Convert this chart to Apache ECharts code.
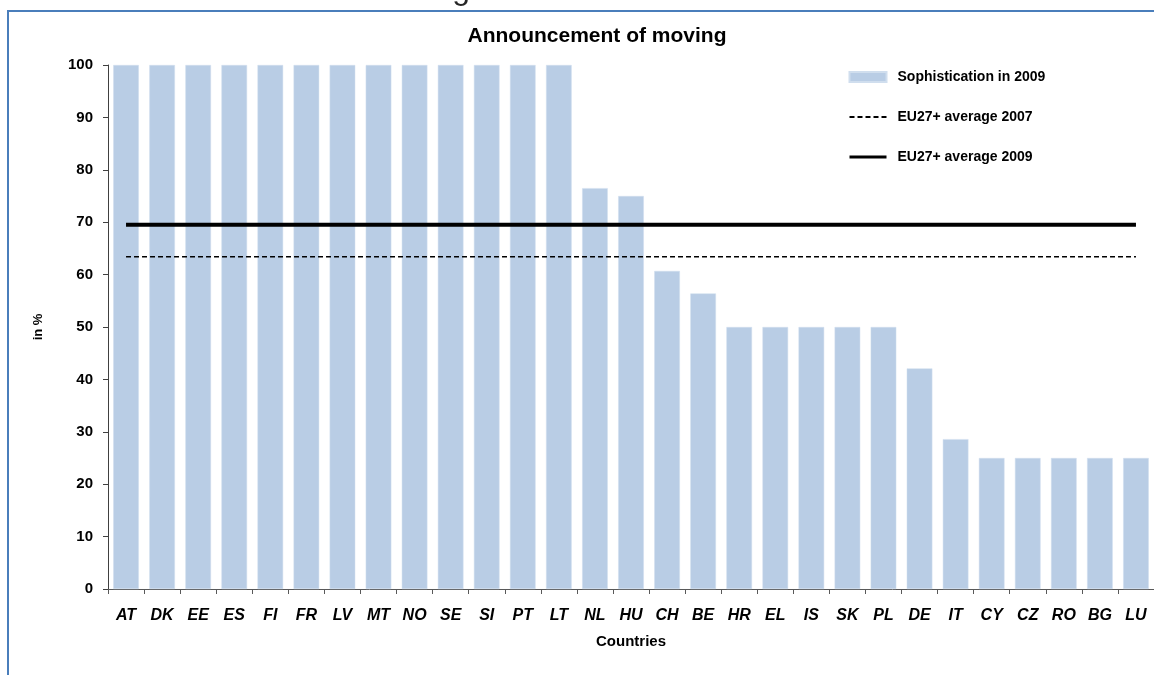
<!DOCTYPE html>
<html>
<head>
<meta charset="utf-8">
<script src="https://cdn.jsdelivr.net/npm/echarts@6/dist/echarts.min.js"></script>
<style>
html,body{margin:0;padding:0;background:#fff;}
#chart{width:1154px;height:675px;}
</style>
</head>
<body>
<div id="chart"></div>
<script>
const countries = ['AT','DK','EE','ES','FI','FR','LV','MT','NO','SE','SI','PT','LT','NL','HU','CH','BE','HR','EL','IS','SK','PL','DE','IT','CY','CZ','RO','BG','LU'];
const sophistication2009 = [100,100,100,100,100,100,100,100,100,100,100,100,100,76.5,75,60.7,56.4,50,50,50,50,50,42.1,28.6,25,25,25,25,25];
const avg2007 = [63.4,63.4,63.4,63.4,63.4,63.4,63.4,63.4,63.4,63.4,63.4,63.4,63.4,63.4,63.4,63.4,63.4,63.4,63.4,63.4,63.4,63.4,63.4,63.4,63.4,63.4,63.4,63.4,63.4];
const avg2009 = [69.5,69.5,69.5,69.5,69.5,69.5,69.5,69.5,69.5,69.5,69.5,69.5,69.5,69.5,69.5,69.5,69.5,69.5,69.5,69.5,69.5,69.5,69.5,69.5,69.5,69.5,69.5,69.5,69.5];
const yTicks = {min: 0, max: 100, interval: 10};

const FONT = 'Arial, "Liberation Sans", sans-serif';
const chart = echarts.init(document.getElementById('chart'), null, {renderer: 'canvas'});
chart.setOption({
  animation: false,
  backgroundColor: '#fff',
  textStyle: {fontFamily: FONT},
  title: {
    text: 'Announcement of moving',
    left: 592, top: 21, textAlign: 'center',
    textStyle: {fontFamily: FONT, fontWeight: 'bold', fontSize: 21, color: '#000'}
  },
  graphic: [
    {type: 'rect', shape: {x: 8, y: 11, width: 1300, height: 800},
     style: {fill: 'none', stroke: '#4A7EBB', lineWidth: 2}, silent: true},
    {type: 'text', x: 470, y: 6,
     style: {text: 'Announcement of moving', font: '32px ' + FONT, fill: '#262626',
             textAlign: 'right', textVerticalAlign: 'bottom'}, silent: true}
  ],
  legend: {
    orient: 'vertical', left: 843, top: 65,
    itemWidth: 37, itemHeight: 10, itemGap: 26,
    textStyle: {fontFamily: FONT, fontWeight: 'bold', fontSize: 14, lineHeight: 14, color: '#000', padding: [0,0,0,6]},
    data: [
      {name: 'Sophistication in 2009', icon: 'rect'},
      {name: 'EU27+ average 2007', itemStyle: {opacity: 0, borderWidth: 0}},
      {name: 'EU27+ average 2009', itemStyle: {opacity: 0, borderWidth: 0}, lineStyle: {width: 3}}
    ]
  },
  grid: {left: 108, right: 0, top: 65, bottom: 86, containLabel: false},
  xAxis: {
    type: 'category', data: countries,
    name: 'Countries', nameLocation: 'middle', nameGap: 45,
    nameTextStyle: {fontFamily: FONT, fontWeight: 'bold', fontSize: 15, color: '#000'},
    axisLine: {lineStyle: {color: '#595959', width: 1}},
    axisTick: {show: true, alignWithLabel: false, length: 5, lineStyle: {color: '#595959'}},
    axisLabel: {fontFamily: FONT, fontWeight: 'bold', fontStyle: 'italic', fontSize: 16, color: '#000', margin: 19, interval: 0},
    splitLine: {show: false}
  },
  yAxis: {
    type: 'value', min: yTicks.min, max: yTicks.max, interval: yTicks.interval,
    name: 'in %', nameLocation: 'middle', nameGap: 63, nameRotate: 90,
    nameTextStyle: {fontFamily: FONT, fontWeight: 'bold', fontSize: 13, color: '#000'},
    axisLine: {show: true, lineStyle: {color: '#404040', width: 1}},
    axisTick: {show: true, length: 5, lineStyle: {color: '#404040'}},
    axisLabel: {fontFamily: FONT, fontWeight: 'bold', fontSize: 15, color: '#000', margin: 15},
    splitLine: {show: false}
  },
  series: [
    {name: 'Sophistication in 2009', type: 'bar', data: sophistication2009,
     barCategoryGap: '29%',
     itemStyle: {color: '#B9CDE5', borderColor: '#D0DEEE', borderWidth: 0.5}},
    {name: 'EU27+ average 2007', type: 'line', data: avg2007, symbol: 'none', z: 3,
     lineStyle: {color: '#000', width: 1.5, type: [5, 3]},
     itemStyle: {color: '#000'}},
    {name: 'EU27+ average 2009', type: 'line', data: avg2009, symbol: 'none', z: 4,
     lineStyle: {color: '#000', width: 4},
     itemStyle: {color: '#000'}}
  ]
});
</script>
</body>
</html>
